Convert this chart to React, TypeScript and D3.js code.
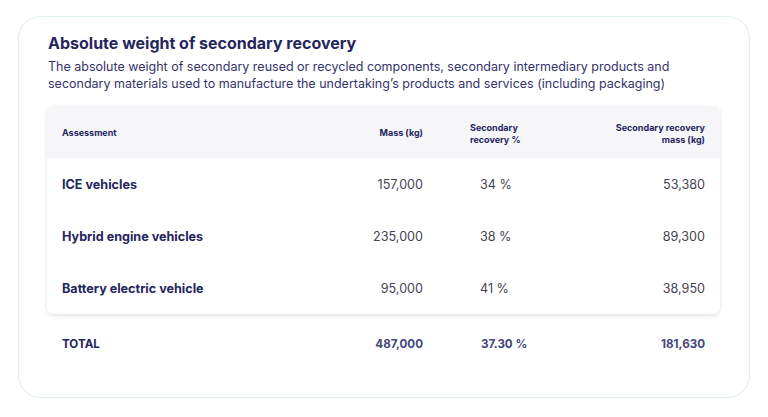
import React from 'react';
import * as d3 from 'd3';

const assessments = ['ICE vehicles', 'Hybrid engine vehicles', 'Battery electric vehicle'];
const massKg = [157000, 235000, 95000];
const recoveryPct = [34, 38, 41];
const recoveryMassKg = [53380, 89300, 38950];

const title = 'Absolute weight of secondary recovery';
const subtitle = [
  'The absolute weight of secondary reused or recycled components, secondary intermediary products and',
  'secondary materials used to manufacture the undertaking\u2019s products and services (including packaging)'
];

const W = 768;
const H = 417;
const FONT = 'Inter, "Noto Sans", sans-serif';
const NAVY = '#25255e';

const App = () => {
  const fmt = d3.format(',');
  const totalMass = d3.sum(massKg);
  const totalRecovery = d3.sum(recoveryMassKg);
  const totalPct = d3.format('.2f')((totalRecovery / totalMass) * 100);

  // table geometry
  const card = { x: 47, y: 106, w: 673, h: 208 };
  const headerH = 52;
  const y = d3.scaleBand<string>()
    .domain(assessments)
    .range([card.y + headerH, card.y + card.h]);

  const colLabel = 62;
  const colMass = 423;
  const colPct = 470;
  const colRec = 705;

  return (
    <div style={{ position: 'fixed', left: 0, top: 0 }}>
      <svg width={W} height={H} style={{ display: 'block', fontFamily: FONT }}>
        <defs>
          <filter id="sh" x="-5%" y="-10%" width="110%" height="125%">
            <feDropShadow dx="0" dy="1.5" stdDeviation="2" floodColor="#1a1a40" floodOpacity="0.12" />
          </filter>
          <clipPath id="cardclip">
            <rect x={card.x} y={card.y} width={card.w} height={card.h} rx={8} />
          </clipPath>
        </defs>
        <rect width={W} height={H} fill="#ffffff" />
        <rect x={18.5} y={16.5} width={731} height={381} rx={22} fill="#ffffff" stroke="#e2f1e8" strokeWidth={1.2} />

        <text x={48} y={49} fontSize={16} fontWeight={700} fill={NAVY}>{title}</text>
        {subtitle.map((s, i) => (
          <text key={i} x={48} y={70.5 + i * 17} fontSize={12.5} fill="#34346a">{s}</text>
        ))}

        <rect x={card.x} y={card.y} width={card.w} height={card.h} rx={8} fill="#ffffff" filter="url(#sh)" />
        <g clipPath="url(#cardclip)">
          <rect x={card.x} y={card.y} width={card.w} height={headerH} fill="#f6f6f9" />
        </g>

        <g fontSize={9} fontWeight={700} fill={NAVY}>
          <text x={colLabel} y={136}>Assessment</text>
          <text x={colMass} y={136} textAnchor="end">Mass (kg)</text>
          <text x={colPct} y={131}>Secondary</text>
          <text x={colPct} y={142.5}>recovery %</text>
          <text x={colRec} y={131} textAnchor="end">Secondary recovery</text>
          <text x={colRec} y={142.5} textAnchor="end">mass (kg)</text>
        </g>

        {assessments.map((a, i) => {
          const cy = (y(a) ?? 0) + y.bandwidth() / 2 + 5;
          return (
            <g key={a}>
              <text x={colLabel} y={cy} fontSize={12.6} fontWeight={700} fill={NAVY}>{a}</text>
              <text x={colMass} y={cy} fontSize={12.6} fill="#444450" textAnchor="end">{fmt(massKg[i])}</text>
              <text x={colPct + 10} y={cy} fontSize={12.6} fill="#444450">{recoveryPct[i]} %</text>
              <text x={colRec} y={cy} fontSize={12.6} fill="#444450" textAnchor="end">{fmt(recoveryMassKg[i])}</text>
            </g>
          );
        })}

        <g fontSize={11.6} fontWeight={700}>
          <text x={colLabel} y={348} fill={NAVY}>TOTAL</text>
          <text x={colMass} y={348} fill="#45457f" textAnchor="end">{fmt(totalMass)}</text>
          <text x={colPct + 11} y={348} fill="#45457f">{totalPct} %</text>
          <text x={colRec} y={348} fill="#45457f" textAnchor="end">{fmt(totalRecovery)}</text>
        </g>
      </svg>
    </div>
  );
};

export default App;
